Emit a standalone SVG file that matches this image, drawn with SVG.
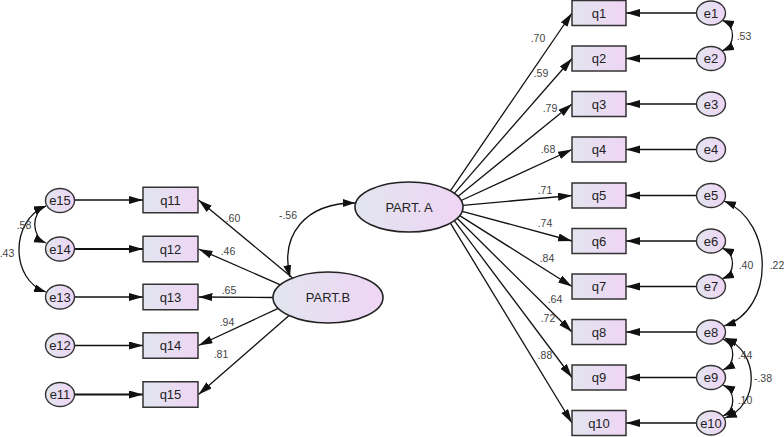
<svg xmlns="http://www.w3.org/2000/svg" width="784" height="437" viewBox="0 0 784 437">
<defs>
<linearGradient id="g" x1="0" y1="0" x2="1" y2="0">
<stop offset="0" stop-color="#e2e5ef"/>
<stop offset="1" stop-color="#efd5f5"/>
</linearGradient>
<marker id="ah" markerWidth="15" markerHeight="9" refX="14" refY="4" orient="auto-start-reverse" markerUnits="userSpaceOnUse">
<path d="M0,0 L14,4 L0,8 z" fill="#111"/>
</marker>
<marker id="ch" markerWidth="13" markerHeight="9" refX="12" refY="4" orient="auto-start-reverse" markerUnits="userSpaceOnUse">
<path d="M0,0 L12,4 L0,8 z" fill="#111"/>
</marker>
</defs>
<style>
.box{fill:url(#g);stroke:#333;stroke-width:1.5}
.lat{fill:url(#g);stroke:#222;stroke-width:1.6}
.err{fill:url(#g);stroke:#333;stroke-width:1.4}
.nt{font-family:"Liberation Sans",Arial,sans-serif;font-size:13px;fill:#222;text-anchor:middle}
.lt{font-family:"Liberation Sans",Arial,sans-serif;font-size:13px;fill:#222;text-anchor:middle}
.cf{font-family:"Liberation Sans",Arial,sans-serif;font-size:10.5px;fill:#444;text-anchor:middle}
.ar{stroke:#111;stroke-width:1.3;fill:none;marker-end:url(#ah)}
.cv{stroke:#111;stroke-width:1.3;fill:none;marker-start:url(#ch);marker-end:url(#ch)}
</style>

<g id="connectors">
<line class="ar" x1="450.4" y1="190.9" x2="572" y2="13"/>
<line class="ar" x1="454.3" y1="193.4" x2="572" y2="58.5"/>
<line class="ar" x1="457.9" y1="196.4" x2="572" y2="104"/>
<line class="ar" x1="461.2" y1="200.5" x2="572" y2="149.5"/>
<line class="ar" x1="462.9" y1="205.3" x2="572" y2="195.5"/>
<line class="ar" x1="462.2" y1="211.3" x2="572" y2="241"/>
<line class="ar" x1="459.7" y1="215.6" x2="572" y2="286.5"/>
<line class="ar" x1="457.1" y1="218.3" x2="572" y2="332"/>
<line class="ar" x1="454.3" y1="220.6" x2="572" y2="377.5"/>
<line class="ar" x1="450.4" y1="223.1" x2="572" y2="423"/>
<line class="ar" x1="696.5" y1="13" x2="626" y2="13"/>
<line class="ar" x1="696.5" y1="58.5" x2="626" y2="58.5"/>
<line class="ar" x1="696.5" y1="104" x2="626" y2="104"/>
<line class="ar" x1="696.5" y1="149.5" x2="626" y2="149.5"/>
<line class="ar" x1="696.5" y1="195.5" x2="626" y2="195.5"/>
<line class="ar" x1="696.5" y1="241" x2="626" y2="241"/>
<line class="ar" x1="696.5" y1="286.5" x2="626" y2="286.5"/>
<line class="ar" x1="696.5" y1="332" x2="626" y2="332"/>
<line class="ar" x1="696.5" y1="377.5" x2="626" y2="377.5"/>
<line class="ar" x1="696.5" y1="423" x2="626" y2="423"/>
<line class="ar" x1="292.6" y1="278" x2="198.5" y2="200"/>
<line class="ar" x1="280.4" y1="284.8" x2="198.5" y2="249"/>
<line class="ar" x1="273" y1="297.5" x2="198.5" y2="297"/>
<line class="ar" x1="278.2" y1="308.3" x2="198.5" y2="345.5"/>
<line class="ar" x1="289.1" y1="315.5" x2="198.5" y2="394.5"/>
<line class="ar" x1="74.5" y1="200" x2="143" y2="200"/>
<line class="ar" x1="74.5" y1="249" x2="143" y2="249" style="stroke-width:2"/>
<line class="ar" x1="74.5" y1="297" x2="143" y2="297"/>
<line class="ar" x1="74.5" y1="345.5" x2="143" y2="345.5"/>
<line class="ar" x1="74.5" y1="394.5" x2="143" y2="394.5" style="stroke-width:2"/>
<path class="cv" d="M290,277 C280,235 305,203 355,203"/>
<path class="cv" d="M722,20 C736,26 736,45 722,51"/>
<path class="cv" d="M722,248 C736,254 736,273 722,279"/>
<path class="cv" d="M724,201 C775,222 775,310 724,326"/>
<path class="cv" d="M723,339 C736,345 736,364 723,370"/>
<path class="cv" d="M723,385 C736,391 736,410 723,416"/>
<path class="cv" d="M725,338 C760,352 760,405 725,418"/>
<path class="cv" d="M46,206 C31,212 31,237 46,243"/>
<path class="cv" d="M46,206 C10,220 10,280 46,292"/>
<text class="cf" x="538" y="41.5">.70</text>
<text class="cf" x="541" y="76.5">.59</text>
<text class="cf" x="550" y="111.5">.79</text>
<text class="cf" x="548" y="152.5">.68</text>
<text class="cf" x="545" y="193.5">.71</text>
<text class="cf" x="545" y="227">.74</text>
<text class="cf" x="547" y="261.5">.84</text>
<text class="cf" x="555" y="302.5">.64</text>
<text class="cf" x="548" y="321.5">.72</text>
<text class="cf" x="545" y="359">.88</text>
<text class="cf" x="233" y="221.5">.60</text>
<text class="cf" x="228" y="254.5">.46</text>
<text class="cf" x="229" y="293.5">.65</text>
<text class="cf" x="227" y="325.5">.94</text>
<text class="cf" x="221" y="357.5">.81</text>
<text class="cf" x="288" y="218.5">-.56</text>
<text class="cf" x="744" y="39.5">.53</text>
<text class="cf" x="746" y="268.5">.40</text>
<text class="cf" x="777" y="268.5">.22</text>
<text class="cf" x="745" y="358.5">.44</text>
<text class="cf" x="745" y="403.5">.10</text>
<text class="cf" x="763" y="381.5">-.38</text>
<text class="cf" x="24" y="228.5">.58</text>
<text class="cf" x="7" y="256.5">.43</text>
</g>

<g id="partA"><ellipse class="lat" cx="409" cy="207" rx="54" ry="25"/><text class="lt" x="409" y="211.5">PART. A</text></g>
<g id="partB"><ellipse class="lat" cx="328" cy="297.5" rx="55" ry="25.5"/><text class="lt" x="328" y="302">PART.B</text></g>

<g id="q1"><rect class="box" x="572" y="0.5" width="54" height="25"/><text class="nt" x="599" y="17.5">q1</text></g>
<g id="q2"><rect class="box" x="572" y="46" width="54" height="25"/><text class="nt" x="599" y="63">q2</text></g>
<g id="q3"><rect class="box" x="572" y="91.5" width="54" height="25"/><text class="nt" x="599" y="108.5">q3</text></g>
<g id="q4"><rect class="box" x="572" y="137" width="54" height="25"/><text class="nt" x="599" y="154">q4</text></g>
<g id="q5"><rect class="box" x="572" y="183" width="54" height="25"/><text class="nt" x="599" y="200">q5</text></g>
<g id="q6"><rect class="box" x="572" y="228.5" width="54" height="25"/><text class="nt" x="599" y="245.5">q6</text></g>
<g id="q7"><rect class="box" x="572" y="274" width="54" height="25"/><text class="nt" x="599" y="291">q7</text></g>
<g id="q8"><rect class="box" x="572" y="319.5" width="54" height="25"/><text class="nt" x="599" y="336.5">q8</text></g>
<g id="q9"><rect class="box" x="572" y="365" width="54" height="25"/><text class="nt" x="599" y="382">q9</text></g>
<g id="q10"><rect class="box" x="572" y="410.5" width="54" height="25"/><text class="nt" x="599" y="427.5">q10</text></g>

<g id="q11"><rect class="box" x="143" y="187.25" width="55" height="25.5"/><text class="nt" x="170.5" y="204.5">q11</text></g>
<g id="q12"><rect class="box" x="143" y="236.25" width="55" height="25.5"/><text class="nt" x="170.5" y="253.5">q12</text></g>
<g id="q13"><rect class="box" x="143" y="284.25" width="55" height="25.5"/><text class="nt" x="170.5" y="301.5">q13</text></g>
<g id="q14"><rect class="box" x="143" y="332.75" width="55" height="25.5"/><text class="nt" x="170.5" y="350">q14</text></g>
<g id="q15"><rect class="box" x="143" y="381.75" width="55" height="25.5"/><text class="nt" x="170.5" y="399">q15</text></g>

<g id="e1"><ellipse class="err" cx="711" cy="13" rx="14.5" ry="12"/><text class="nt" x="711" y="17.5">e1</text></g>
<g id="e2"><ellipse class="err" cx="711" cy="58.5" rx="14.5" ry="12"/><text class="nt" x="711" y="63">e2</text></g>
<g id="e3"><ellipse class="err" cx="711" cy="104" rx="14.5" ry="12"/><text class="nt" x="711" y="108.5">e3</text></g>
<g id="e4"><ellipse class="err" cx="711" cy="149.5" rx="14.5" ry="12"/><text class="nt" x="711" y="154">e4</text></g>
<g id="e5"><ellipse class="err" cx="711" cy="195.5" rx="14.5" ry="12"/><text class="nt" x="711" y="200">e5</text></g>
<g id="e6"><ellipse class="err" cx="711" cy="241" rx="14.5" ry="12"/><text class="nt" x="711" y="245.5">e6</text></g>
<g id="e7"><ellipse class="err" cx="711" cy="286.5" rx="14.5" ry="12"/><text class="nt" x="711" y="291">e7</text></g>
<g id="e8"><ellipse class="err" cx="711" cy="332" rx="14.5" ry="12"/><text class="nt" x="711" y="336.5">e8</text></g>
<g id="e9"><ellipse class="err" cx="711" cy="377.5" rx="14.5" ry="12"/><text class="nt" x="711" y="382">e9</text></g>
<g id="e10"><ellipse class="err" cx="711" cy="423" rx="14.5" ry="12"/><text class="nt" x="711" y="427.5">e10</text></g>

<g id="e15"><ellipse class="err" cx="60" cy="200.5" rx="14.5" ry="12"/><text class="nt" x="60" y="205">e15</text></g>
<g id="e14"><ellipse class="err" cx="60" cy="249" rx="14.5" ry="12"/><text class="nt" x="60" y="253.5">e14</text></g>
<g id="e13"><ellipse class="err" cx="60" cy="297" rx="14.5" ry="12"/><text class="nt" x="60" y="301.5">e13</text></g>
<g id="e12"><ellipse class="err" cx="60" cy="345.5" rx="14.5" ry="12"/><text class="nt" x="60" y="350">e12</text></g>
<g id="e11"><ellipse class="err" cx="60" cy="394.5" rx="14.5" ry="12"/><text class="nt" x="60" y="399">e11</text></g>
</svg>
